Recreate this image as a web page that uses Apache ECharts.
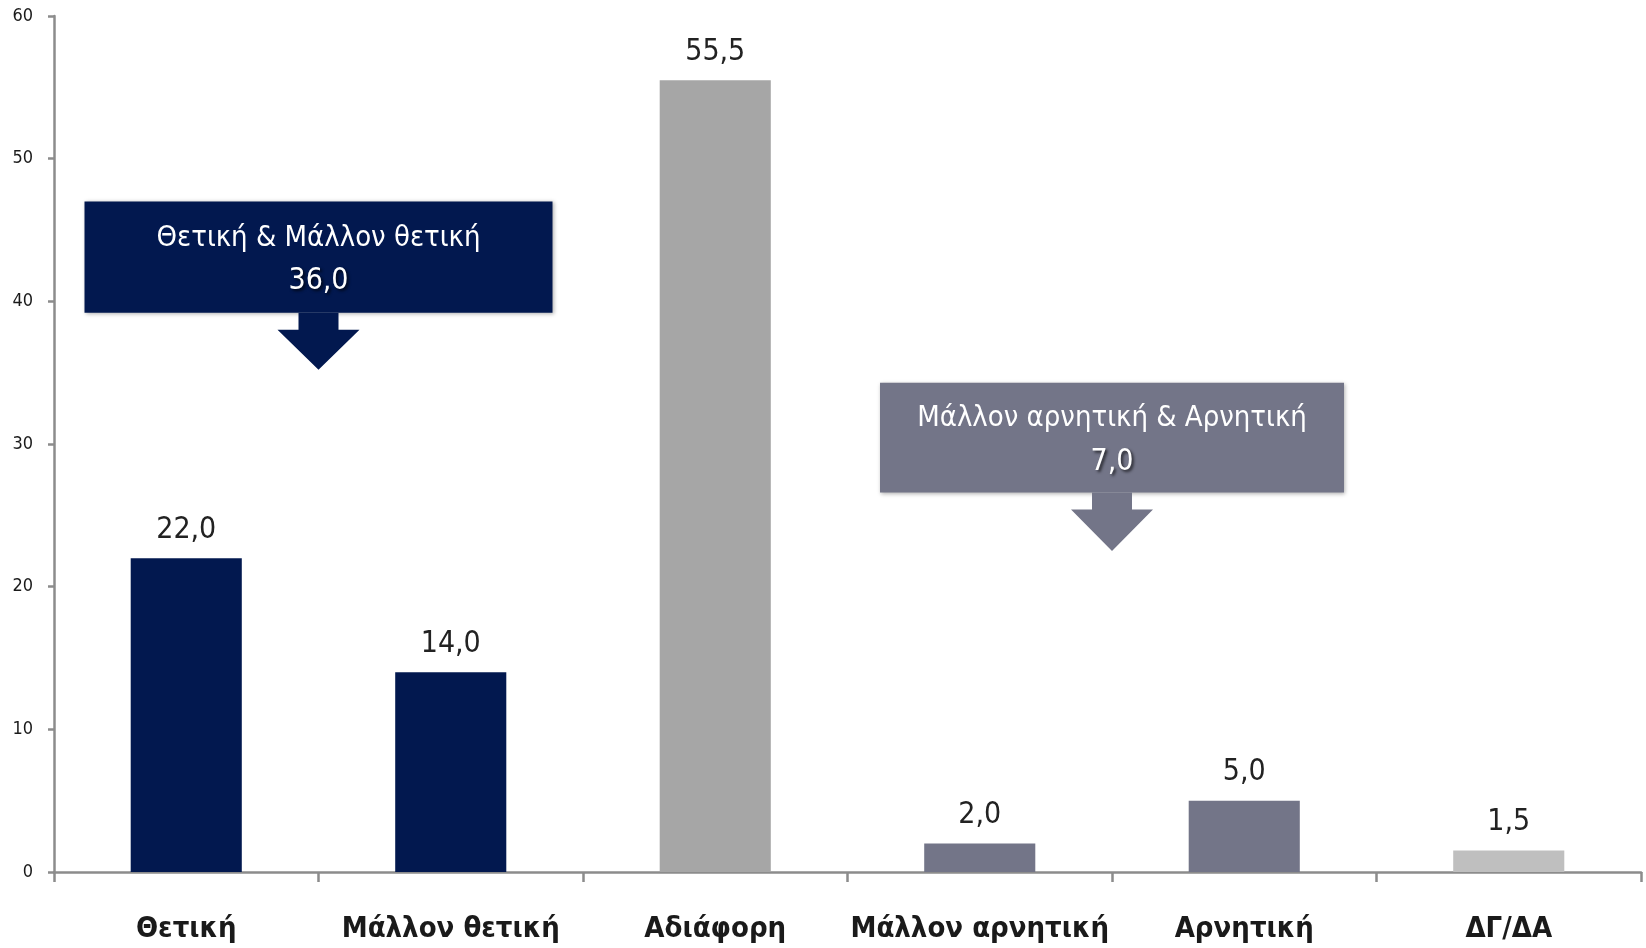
<!DOCTYPE html>
<html>
<head>
<meta charset="utf-8">
<script src="https://cdn.jsdelivr.net/npm/echarts@6/dist/echarts.min.js"></script>
<style>
  html, body { margin: 0; padding: 0; background: #fff; }
  #chart { width: 1646px; height: 948px; }
</style>
</head>
<body>
<div id="chart"></div>
<script>
// data
const categories = ['Θετική', 'Μάλλον θετική', 'Αδιάφορη', 'Μάλλον αρνητική', 'Αρνητική', 'ΔΓ/ΔΑ'];
const values = [22.0, 14.0, 55.5, 2.0, 5.0, 1.5];
const barColors = ['#02184f', '#02184f', '#a6a6a6', '#737588', '#737588', '#bfbfbf'];
const yTicks = [0, 10, 20, 30, 40, 50, 60];

const NARROW = '"Liberation Sans Narrow", "DejaVu Sans Condensed", sans-serif';
const fmt = v => v.toFixed(1).replace('.', ',');

const chart = echarts.init(document.getElementById('chart'));
chart.setOption({
    animation: false,
    grid: { left: 54, right: 5, top: 16, bottom: 76 },
    xAxis: {
        type: 'category',
        data: categories,
        axisLine: { lineStyle: { color: '#8c8c8c', width: 2.5 } },
        axisTick: { show: true, length: 10, lineStyle: { color: '#8c8c8c', width: 2.5 } },
        axisLabel: {
            interval: 0,
            margin: 43,
            fontFamily: NARROW,
            fontWeight: 'bold',
            fontSize: 29,
            color: '#1a1a1a'
        }
    },
    yAxis: {
        type: 'value',
        min: yTicks[0],
        max: yTicks[yTicks.length - 1],
        interval: yTicks[1] - yTicks[0],
        splitLine: { show: false },
        axisLine: { show: true, lineStyle: { color: '#8c8c8c', width: 2.5 } },
        axisTick: { show: true, length: 6, lineStyle: { color: '#8c8c8c', width: 2.5 } },
        axisLabel: {
            margin: 21,
            fontFamily: NARROW,
            fontSize: 18,
            color: '#1a1a1a'
        }
    },
    series: [{
        type: 'bar',
        barWidth: '42%',
        data: values.map((v, i) => ({ value: v, itemStyle: { color: barColors[i] } })),
        label: {
            show: true,
            position: 'top',
            distance: 13,
            fontFamily: NARROW,
            fontSize: 30,
            color: '#222',
            formatter: p => fmt(p.value)
        }
    }]
});

// callouts: sum of pairs of categories, placed between the pair
function callout(i, j, color, title, yTop, yBottom, yTip, boxW) {
    const xc = (chart.convertToPixel({ xAxisIndex: 0 }, categories[i]) +
                chart.convertToPixel({ xAxisIndex: 0 }, categories[j])) / 2;
    const top = chart.convertToPixel({ yAxisIndex: 0 }, yTop);
    const bottom = chart.convertToPixel({ yAxisIndex: 0 }, yBottom);
    const tip = chart.convertToPixel({ yAxisIndex: 0 }, yTip);
    const h = bottom - top;
    const total = values[i] + values[j];
    return [
        {
            type: 'rect',
            shape: { x: xc - boxW / 2, y: top, width: boxW, height: h },
            style: { fill: color, shadowBlur: 4, shadowColor: 'rgba(0,0,0,0.3)', shadowOffsetX: 1, shadowOffsetY: 1 }
        },
        {
            type: 'polygon',
            shape: {
                points: [
                    [xc - 20, bottom], [xc + 20, bottom], [xc + 20, bottom + 17],
                    [xc + 41, bottom + 17], [xc, tip], [xc - 41, bottom + 17], [xc - 20, bottom + 17]
                ]
            },
            style: { fill: color }
        },
        {
            type: 'text',
            x: xc, y: top + h * 0.33,
            style: {
                text: title, align: 'center', verticalAlign: 'middle',
                fontFamily: NARROW, fontSize: 29, fill: '#fff'
            }
        },
        {
            type: 'text',
            x: xc, y: top + h * 0.72,
            style: {
                text: fmt(total), align: 'center', verticalAlign: 'middle',
                fontFamily: NARROW, fontSize: 30, fill: '#fff',
                textShadowColor: 'rgba(0,0,0,0.7)', textShadowBlur: 3, textShadowOffsetX: 2, textShadowOffsetY: 2
            }
        }
    ];
}

chart.setOption({
    graphic: [
        ...callout(0, 1, '#02184f', 'Θετική & Μάλλον θετική', 47.0, 39.2, 35.2, 468),
        ...callout(3, 4, '#737588', 'Μάλλον αρνητική & Αρνητική', 34.3, 26.6, 22.5, 464)
    ]
});
</script>
</body>
</html>
